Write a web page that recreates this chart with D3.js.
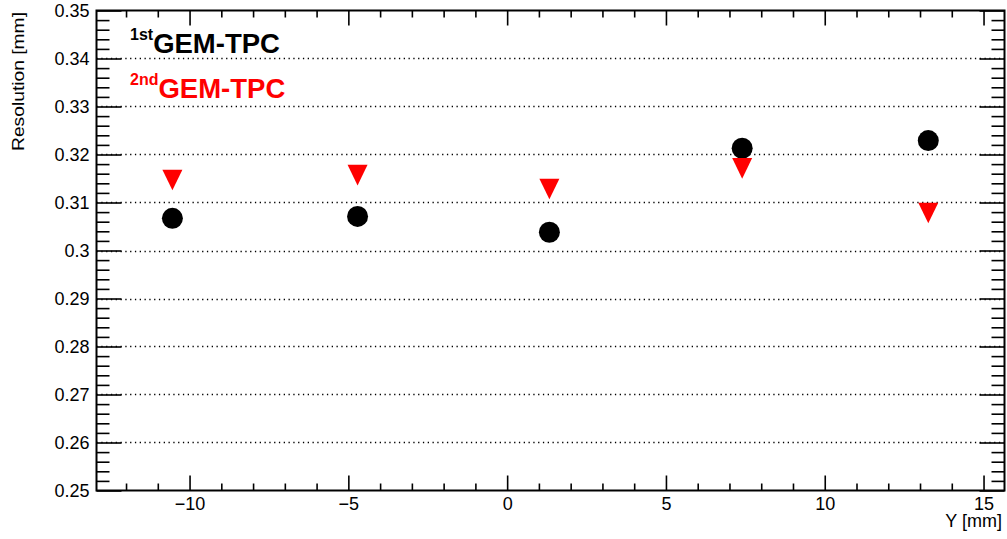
<!DOCTYPE html>
<html><head><meta charset="utf-8">
<script src="https://cdn.jsdelivr.net/npm/d3@7"></script>
<style>
html,body{margin:0;padding:0;background:#fff;}
text{font-family:"Liberation Sans",Arial,Helvetica,sans-serif;}
</style></head>
<body>
<svg id="c" width="1007" height="539"></svg>
<script>
// ---- data ----
const seriesNames = ["1st", "2nd"];
const positions1 = [-10.54, -4.71, 1.33, 7.40, 13.26];
const resolution1 = [0.3067, 0.3071, 0.3038, 0.3213, 0.3229];
const positions2 = [-10.54, -4.71, 1.33, 7.40, 13.26];
const resolution2 = [0.3147, 0.3157, 0.3128, 0.3171, 0.3078];
const xMajorTicks = [-10, -5, 0, 5, 10, 15];
const yMajorTicks = [0.25, 0.26, 0.27, 0.28, 0.29, 0.30, 0.31, 0.32, 0.33, 0.34, 0.35];
const yTickLabels = ["0.25","0.26","0.27","0.28","0.29","0.3","0.31","0.32","0.33","0.34","0.35"];

const svg = d3.select("#c");
const L = 96.5, R = 1004.5, T = 10.5, B = 490.5;
const x = d3.scaleLinear().domain([-12.93, 15.66]).range([L, R]);
const y = d3.scaleLinear().domain([0.25, 0.35]).range([B, T]);

// grid
svg.append("g").selectAll("line").data(yMajorTicks.filter(v => v > 0.2501 && v < 0.3499)).join("line")
  .attr("x1", L).attr("x2", R)
  .attr("y1", d => Math.round(y(d)) + 0.5).attr("y2", d => Math.round(y(d)) + 0.5)
  .attr("stroke", "#000").attr("stroke-width", 1.3).attr("stroke-dasharray", "1.3,3.5");

const xMinor = d3.range(-12, 16, 1).filter(v => v % 5 !== 0);
const yMinor = d3.range(0, 51).map(i => 0.25 + i * 0.002).filter((v, i) => i % 5 !== 0);

function styleAxis(g) {
  g.select(".domain").remove();
  g.selectAll(".tick line").attr("stroke", "#000").attr("stroke-width", 1.6);
}
// bottom
svg.append("g").attr("transform", `translate(0,${B})`)
  .call(d3.axisBottom(x).tickValues(xMajorTicks).tickSize(-15).tickPadding(7)
    .tickFormat(d => d < 0 ? "\u2212" + Math.abs(d) : String(d)))
  .call(styleAxis)
  .call(g => g.selectAll("text").attr("font-size", 18).attr("fill", "#000").attr("font-family", "Liberation Sans, Arial"));
svg.append("g").attr("transform", `translate(0,${B})`)
  .call(d3.axisBottom(x).tickValues(xMinor).tickSize(-7).tickFormat(""))
  .call(styleAxis);
// top
svg.append("g").attr("transform", `translate(0,${T})`)
  .call(d3.axisTop(x).tickValues(xMajorTicks).tickSize(-15).tickFormat(""))
  .call(styleAxis);
svg.append("g").attr("transform", `translate(0,${T})`)
  .call(d3.axisTop(x).tickValues(xMinor).tickSize(-7).tickFormat(""))
  .call(styleAxis);
// left
svg.append("g").attr("transform", `translate(${L},0)`)
  .call(d3.axisLeft(y).tickValues(yMajorTicks).tickSize(-25).tickPadding(7)
    .tickFormat((d, i) => yTickLabels[i]))
  .call(styleAxis)
  .call(g => g.selectAll("text").attr("font-size", 18).attr("fill", "#000").attr("font-family", "Liberation Sans, Arial"));
svg.append("g").attr("transform", `translate(${L},0)`)
  .call(d3.axisLeft(y).tickValues(yMinor).tickSize(-13).tickFormat(""))
  .call(styleAxis);
// right
svg.append("g").attr("transform", `translate(${R},0)`)
  .call(d3.axisRight(y).tickValues(yMajorTicks).tickSize(-25).tickFormat(""))
  .call(styleAxis);
svg.append("g").attr("transform", `translate(${R},0)`)
  .call(d3.axisRight(y).tickValues(yMinor).tickSize(-13).tickFormat(""))
  .call(styleAxis);

// frame
svg.append("rect").attr("x", L).attr("y", T).attr("width", R - L).attr("height", B - T)
  .attr("fill", "none").attr("stroke", "#000").attr("stroke-width", 2);

// axis titles
svg.append("text").attr("transform", `translate(24,12) rotate(-90)`)
  .attr("text-anchor", "end").attr("font-size", 17).attr("fill", "#000")
  .attr("textLength", 139).attr("lengthAdjust", "spacingAndGlyphs")
  .text("Resolution [mm]");
svg.append("text").attr("x", 1002).attr("y", 527).attr("text-anchor", "end")
  .attr("font-size", 18).attr("fill", "#000").text("Y [mm]");

// markers
svg.append("g").selectAll("circle").data(positions1.map((p, i) => [p, resolution1[i]])).join("circle")
  .attr("cx", d => x(d[0])).attr("cy", d => y(d[1])).attr("r", 10.5).attr("fill", "#000");
svg.append("g").selectAll("path").data(positions2.map((p, i) => [p, resolution2[i]])).join("path")
  .attr("d", "M-10,-10.3L10,-10.3L0,10.3Z").attr("fill", "#ff0000")
  .attr("transform", d => `translate(${x(d[0])},${y(d[1])})`);

// legend
const leg = [{color: "#000", x: 130, y: 53}, {color: "#ff0000", x: 130, y: 98}];
leg.forEach((l, i) => {
  const t = svg.append("text").attr("x", l.x).attr("y", l.y).attr("fill", l.color)
    .attr("font-weight", "bold").attr("font-family", "Liberation Sans, Arial");
  t.append("tspan").attr("font-size", 16).attr("dy", -13).text(seriesNames[i]);
  t.append("tspan").attr("font-size", 27.5).attr("dy", 13).text("GEM-TPC");
});
</script>
</body></html>
